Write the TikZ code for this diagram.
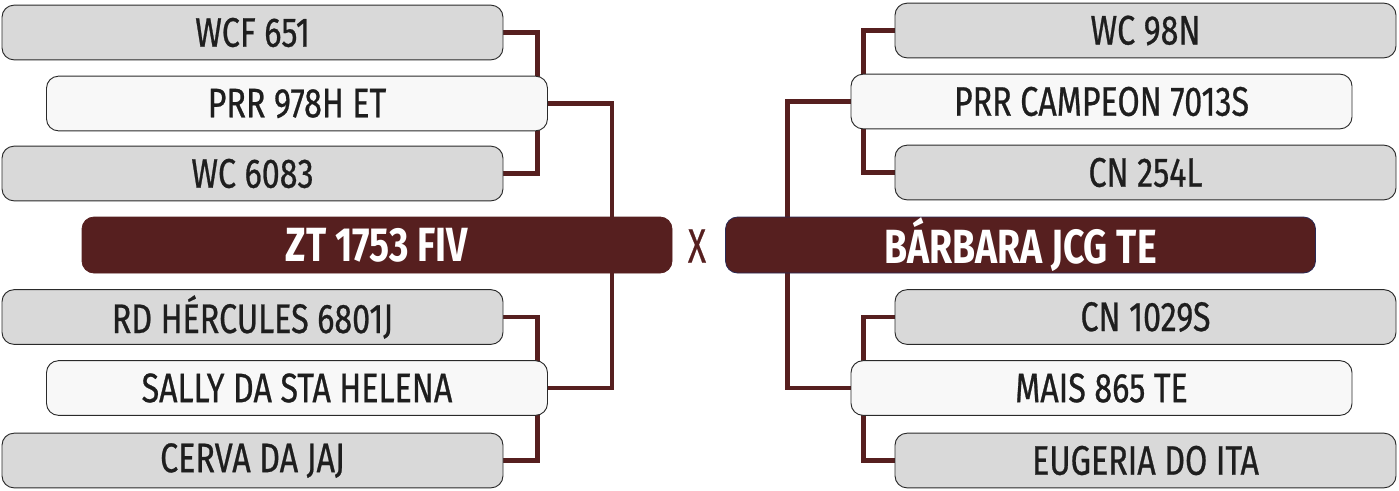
\documentclass[tikz,border=0pt]{standalone}
\usepackage{fontspec}
\setmainfont{Fira Sans}[FakeStretch=0.78]
\newfontfamily\medfont{Fira Sans}[FakeStretch=0.78, FakeBold=0.6]
\newfontfamily\xfont{Fira Sans}[FakeStretch=0.7, FakeBold=0.4]
\usetikzlibrary{backgrounds}
\definecolor{maroon}{HTML}{561F1F}
\definecolor{boxgray}{HTML}{D9D9D9}
\definecolor{boxwhite}{HTML}{F8F8F8}
\definecolor{edge}{HTML}{2A2A2A}
\definecolor{txt}{HTML}{1E1E1E}
\definecolor{navyedge}{HTML}{2A2A55}
\tikzset{
  base/.style={rounded corners=9pt, draw=edge, line width=0.7pt, minimum width=375.75pt, minimum height=41pt, inner sep=0pt, text=txt, font=\medfont\fontsize{31}{34}\selectfont},
  gbox/.style={base, fill=boxgray},
  wbox/.style={base, fill=boxwhite},
  dbox/.style={rounded corners=9pt, line width=0.6pt, fill=maroon, minimum width=442.5pt, minimum height=42pt, inner sep=0pt, text=white, font=\fontsize{36}{40}\bfseries\selectfont},
  conn/.style={draw=maroon, line width=3.4pt}
}
\begin{document}
\begin{tikzpicture}[x=0.75pt,y=-0.75pt]
\useasboundingbox (0,0) rectangle (1399,490);
% left
\node[gbox] (wcf) at (252.5,32.5) {WCF 651};
\node[wbox] (prr) at (297,103.5) {PRR 978H ET};
\node[gbox] (wc6083) at (252.5,173.5) {WC 6083};
\node[dbox, draw=maroon] (zt) at (377,245) {ZT 1753 FIV};
\node[gbox] (rd) at (252.5,317) {RD HÉRCULES 6801J};
\node[wbox] (sally) at (297,388) {SALLY DA STA HELENA};
\node[gbox] (cerva) at (252.5,460.5) {CERVA DA JAJ};
% middle
\node[text=maroon, font=\xfont\fontsize{36}{40}\selectfont, inner sep=0pt] (x) at (697,246) {X};
% right
\node[gbox] (wc98) at (1145.5,30.5) {WC 98N};
\node[wbox] (prrc) at (1101.5,101.5) {PRR CAMPEON 7013S};
\node[gbox] (cn254) at (1145.5,172.5) {CN 254L};
\node[dbox, draw=navyedge] (barb) at (1020.5,245) {BÁRBARA JCG TE};
\node[gbox] (cn1029) at (1145.5,317) {CN 1029S};
\node[wbox] (mais) at (1101.5,388) {MAIS 865 TE};
\node[gbox] (eug) at (1145.5,460.5) {EUGERIA DO ITA};
\begin{scope}[on background layer]
\draw[conn] (wcf.east) -- ++(34,0) |- (wc6083.east);
\draw[conn] (prr.east) -- ++(64,0) |- (sally.east);
\draw[conn] (rd.east) -- ++(34,0) |- (cerva.east);
\draw[conn] (wc98.west) -- ++(-31,0) |- (cn254.west);
\draw[conn] (prrc.west) -- ++(-63,0) |- (mais.west);
\draw[conn] (cn1029.west) -- ++(-31,0) |- (eug.west);
\end{scope}
\end{tikzpicture}
\end{document}
